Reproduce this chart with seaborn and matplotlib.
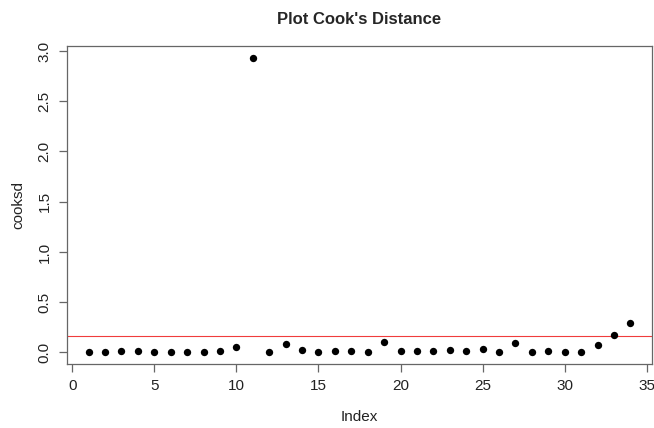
import matplotlib
matplotlib.use("Agg")
import matplotlib.pyplot as plt
import seaborn as sns
import pandas as pd

index = list(range(1, 35))
cooksd = [0.003, 0.005, 0.017, 0.014, 0.002, 0.002, 0.002, 0.008, 0.010, 0.050,
          2.930, 0.008, 0.080, 0.024, 0.002, 0.017, 0.017, 0.002, 0.107, 0.011,
          0.017, 0.010, 0.024, 0.017, 0.034, 0.005, 0.090, 0.002, 0.011, 0.002,
          0.005, 0.074, 0.173, 0.293]
cutoff = 0.167
x_ticks = [0, 5, 10, 15, 20, 25, 30, 35]
y_ticks = [0.0, 0.5, 1.0, 1.5, 2.0, 2.5, 3.0]

df = pd.DataFrame({"Index": index, "cooksd": cooksd})

sns.set_style("ticks")
plt.rcParams['font.family'] = ['Liberation Sans', 'DejaVu Sans']

fig = plt.figure(figsize=(6.54, 4.28), dpi=100)
ax = fig.add_axes([67/654, 1 - 364/428, (652-67)/654, (364-46)/428])

sns.scatterplot(data=df, x="Index", y="cooksd", ax=ax, color="black",
                s=28, edgecolor="black", linewidth=0, zorder=3)
ax.axhline(cutoff, color="#f03c3c", linewidth=0.8, zorder=2)

ax.set_xlim(-0.32, 35.32)
ax.set_ylim(-0.115, 3.05)
ax.set_xticks(x_ticks)
ax.set_xticklabels([str(t) for t in x_ticks])
ax.set_yticks(y_ticks)
ax.set_yticklabels([f"{t:.1f}" for t in y_ticks], rotation=90, va="center")

for sp in ax.spines.values():
    sp.set_visible(True)
    sp.set_color("#666666")
    sp.set_linewidth(0.9)
ax.tick_params(axis="both", direction="out", length=6, width=0.9, color="#666666",
               labelsize=11, labelcolor="#222222", pad=5)

ax.set_xlabel("Index", fontsize=11, color="#222222", labelpad=12)
ax.set_ylabel("cooksd", fontsize=11, color="#222222", labelpad=9)
ax.set_title("Plot Cook's Distance", fontsize=12, fontweight="bold", pad=16)

fig.savefig("out.png", dpi=100)
